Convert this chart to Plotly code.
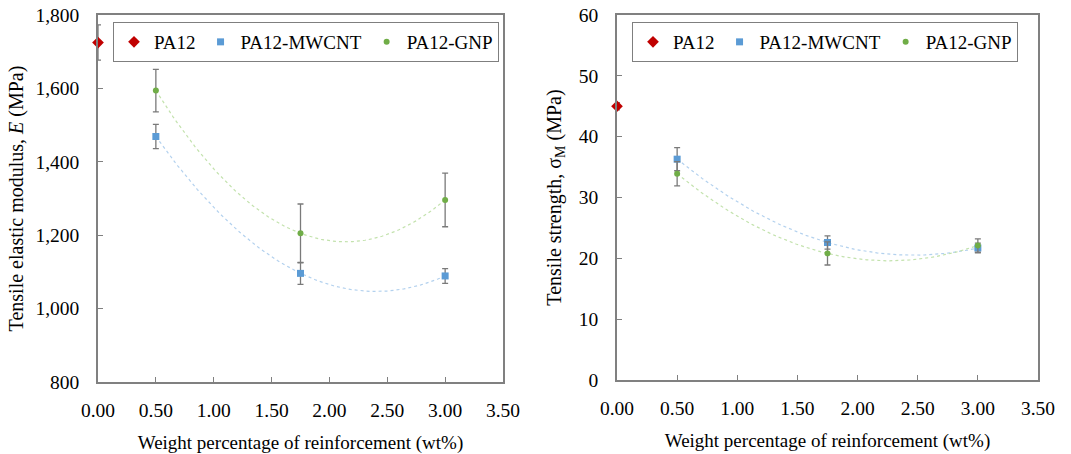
import numpy as np
import plotly.graph_objects as go

# ---------------- data ----------------
x_pa12 = [0.0]
x_fill = [0.5, 1.75, 3.0]

# Tensile elastic modulus E (MPa)
E_pa12 = [1725]
E_pa12_err = [48]
E_mwcnt = [1469, 1096, 1089]
E_mwcnt_err = [33, 30, 20]
E_gnp = [1594, 1205, 1296]
E_gnp_err = [58, 80, 73]

# Tensile strength sigma_M (MPa)
S_pa12 = [45.0]
S_pa12_err = [0.6]
S_mwcnt = [36.3, 22.6, 21.7]
S_mwcnt_err = [1.9, 1.1, 0.8]
S_gnp = [33.9, 20.8, 22.1]
S_gnp_err = [2.0, 1.9, 1.1]

names = ["PA12", "PA12-MWCNT", "PA12-GNP"]
# ---------------------------------------

RED = "#c00000"
BLUE = "#5b9bd5"
GREEN = "#70ad47"
LBLUE = "#b3d1ee"
LGREEN = "#c3e2ad"
ERRC = "#7a7a7a"
FONT = "'Liberation Serif', 'Times New Roman', 'DejaVu Serif', serif"

W, H = 1071, 454
fig = go.Figure()


def err(v):
    return dict(type="data", array=v, visible=True, color=ERRC, thickness=1.3, width=3)


def trend(xs, ys):
    c = np.polyfit(xs, ys, 2)
    xx = np.linspace(min(xs), max(xs), 120)
    return xx, np.polyval(c, xx)


panels = [
    ("x", "y", "legend", E_pa12, E_pa12_err, E_mwcnt, E_mwcnt_err, E_gnp, E_gnp_err),
    ("x2", "y2", "legend2", S_pa12, S_pa12_err, S_mwcnt, S_mwcnt_err, S_gnp, S_gnp_err),
]

for xa, ya, lg, p, pe, m, me, g, ge in panels:
    for ys, col in ((m, LBLUE), (g, LGREEN)):
        tx, ty = trend(x_fill, ys)
        fig.add_trace(go.Scatter(x=tx, y=ty, mode="lines", xaxis=xa, yaxis=ya,
                                 line=dict(color=col, width=1.2, dash="dot"),
                                 showlegend=False, hoverinfo="skip"))
    fig.add_trace(go.Scatter(x=x_pa12, y=p, error_y=err(pe), mode="markers", name=names[0],
                             xaxis=xa, yaxis=ya, legend=lg, cliponaxis=False,
                             marker=dict(symbol="diamond", color=RED, size=9)))
    fig.add_trace(go.Scatter(x=x_fill, y=m, error_y=err(me), mode="markers", name=names[1],
                             xaxis=xa, yaxis=ya, legend=lg, cliponaxis=False,
                             marker=dict(symbol="square", color=BLUE, size=7)))
    fig.add_trace(go.Scatter(x=x_fill, y=g, error_y=err(ge), mode="markers", name=names[2],
                             xaxis=xa, yaxis=ya, legend=lg, cliponaxis=False,
                             marker=dict(symbol="circle", color=GREEN, size=6)))

axis_common = dict(showline=True, linecolor="#808080", linewidth=1.5, mirror=True,
                   ticks="inside", ticklen=5, tickcolor="#808080", tickwidth=1,
                   showgrid=False, zeroline=False, automargin=False,
                   tickfont=dict(family=FONT, size=19.5, color="#000000"))

xtitle = "Weight percentage of reinforcement (wt%)"
legend_common = dict(orientation="h", xanchor="left", yanchor="top",
                     bgcolor="white", bordercolor="#7f7f7f", borderwidth=1,
                     itemwidth=30, tracegroupgap=0,
                     font=dict(family=FONT, size=19, color="#000000"))

fig.update_layout(
    width=W, height=H,
    margin=dict(l=0, r=0, t=0, b=0),
    paper_bgcolor="white", plot_bgcolor="white",
    font=dict(family=FONT, size=19, color="#000000"),
    showlegend=True,
    xaxis=dict(axis_common, domain=[98 / W, 503 / W], range=[0, 3.5], dtick=0.5,
               tickformat=".2f", anchor="y", ticklabelstandoff=10,
               title=dict(text=xtitle, font=dict(family=FONT, size=19), standoff=20)),
    yaxis=dict(axis_common, domain=[1 - 382 / H, 1 - 15 / H], range=[800, 1800], dtick=200,
               tickformat=",d", anchor="x", ticklabelstandoff=13,
               title=dict(text="Tensile elastic modulus, <i>E</i> (MPa)",
                          font=dict(family=FONT, size=20), standoff=6)),
    xaxis2=dict(axis_common, domain=[617 / W, 1038 / W], range=[0, 3.5], dtick=0.5,
                tickformat=".2f", anchor="y2", ticklabelstandoff=10,
                title=dict(text=xtitle, font=dict(family=FONT, size=19), standoff=16)),
    yaxis2=dict(axis_common, domain=[1 - 380 / H, 1 - 15 / H], range=[0, 60], dtick=10,
                anchor="x2", ticklabelstandoff=13,
                title=dict(text="Tensile strength, σ<sub>M</sub> (MPa)",
                           font=dict(family=FONT, size=20), standoff=12)),
    legend=dict(legend_common, x=113 / W, y=1 - 22 / H),
    legend2=dict(legend_common, x=632 / W, y=1 - 22 / H),
)

fig.write_html("out.html", config={"displayModeBar": False},
               post_script="document.body.style.margin='0';document.body.style.overflow='hidden';")
